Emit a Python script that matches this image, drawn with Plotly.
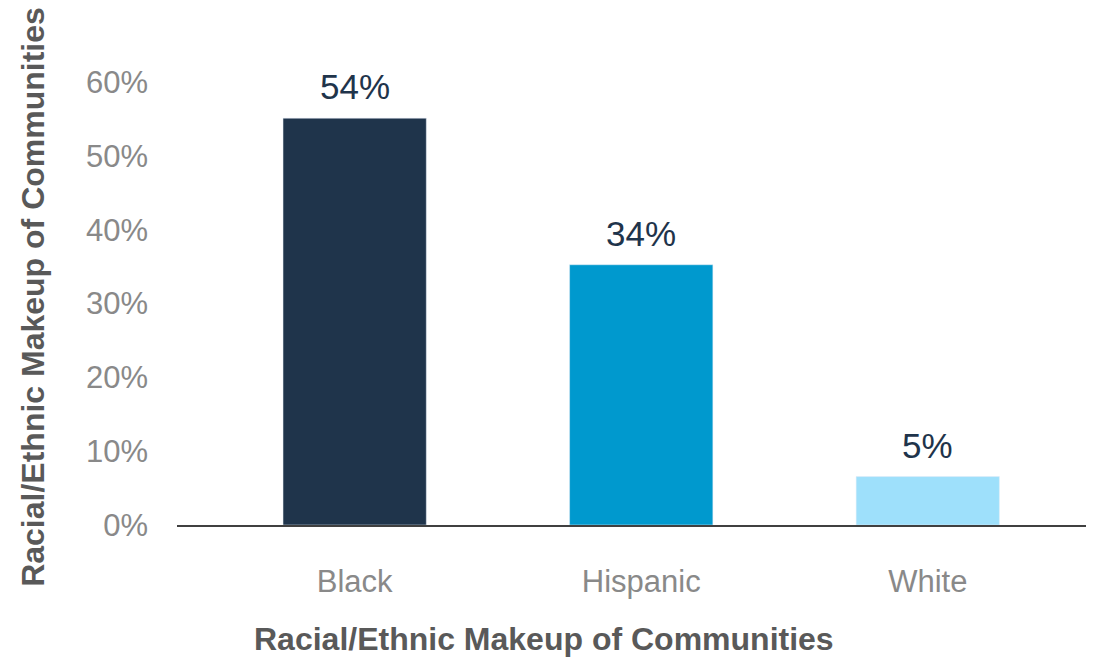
import plotly.graph_objects as go

categories = ["Black", "Hispanic", "White"]
values = [0.551, 0.3525, 0.0656]
labels = ["54%", "34%", "5%"]
colors = ["#1F344B", "#0099CE", "#9EE0FB"]
tick_vals = [0, 0.1, 0.2, 0.3, 0.4, 0.5, 0.6]
tick_text = ["0%", "10%", "20%", "30%", "40%", "50%", "60%"]
axis_title = "Racial/Ethnic Makeup of Communities"

FONT = "Liberation Sans, Arial"

fig = go.Figure(go.Bar(
    x=categories, y=values, marker_color=colors, width=0.5,
    hoverinfo="skip",
))

annotations = [
    dict(x=c, y=v, text=t, xref="x", yref="y", showarrow=False,
         yanchor="bottom", yshift=10,
         font=dict(family=FONT, size=35, color="#1F344B"))
    for c, v, t in zip(categories, values, labels)
]
annotations.append(dict(
    text="<b>" + axis_title + "</b>", xref="paper", yref="paper",
    x=0.3968, y=-0.258, xanchor="center", yanchor="middle", showarrow=False,
    font=dict(family=FONT, size=32, color="#595959"),
))
annotations.append(dict(
    text="<b>" + axis_title + "</b>", textangle=-90, xref="paper", yref="paper",
    x=-0.1557, y=0.515, xanchor="center", yanchor="middle", showarrow=False,
    font=dict(family=FONT, size=32, color="#595959"),
))

fig.update_layout(
    width=1094, height=658,
    margin=dict(l=169, r=0, t=74, b=140.5),
    plot_bgcolor="white", paper_bgcolor="white",
    showlegend=False,
    font=dict(family=FONT, color="#898989"),
    xaxis=dict(
        range=[-0.62, 2.608], showgrid=False, showline=True, linecolor="#404040", linewidth=2,
        ticks="", ticklabelstandoff=28, tickfont=dict(size=31, color="#898989"),
    ),
    yaxis=dict(
        range=[0, 0.6], tickvals=tick_vals, ticktext=tick_text, showgrid=False,
        zeroline=False, showline=False, ticks="", ticklabelstandoff=28,
        tickfont=dict(size=31, color="#898989"),
    ),
    annotations=annotations,
)
fig.write_html("out.html")
